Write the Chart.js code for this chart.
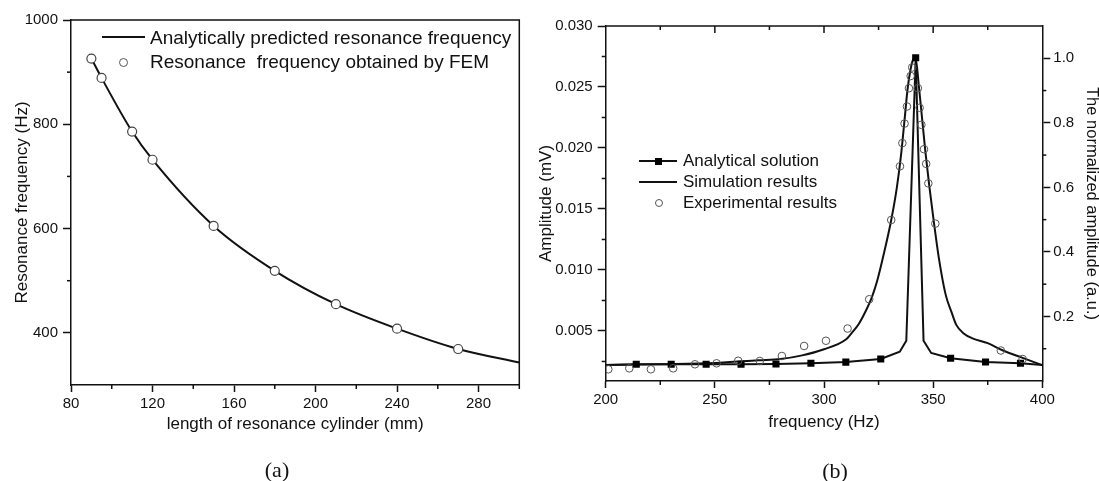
<!DOCTYPE html>
<html><head><meta charset="utf-8">
<script src="https://cdn.jsdelivr.net/npm/chart.js@4.4.1/dist/chart.umd.min.js"></script>
<style>
html,body{margin:0;padding:0;background:#fff;overflow:hidden;width:1099px;height:481px;position:relative;}
#wrapA{position:absolute;left:0;top:0;width:530px;height:481px;}
#wrapB{position:absolute;left:530px;top:0;width:569px;height:481px;}
.txt{position:absolute;font-family:'Liberation Sans',Arial,sans-serif;color:#111;white-space:pre;height:20px;line-height:20px;}
.ln{position:absolute;height:2px;background:#111;}
.circ{position:absolute;border:1.2px solid #555;border-radius:50%;background:#fff;box-sizing:border-box;}
.sq{position:absolute;width:7px;height:7px;background:#000;}
.cap{position:absolute;font-family:'Liberation Serif','Times New Roman',serif;font-size:22px;color:#111;transform:translate(-50%,-50%);line-height:24px;}
</style></head>
<body>
<div id="wrapA"><canvas id="cA" width="530" height="481"></canvas></div>
<div id="wrapB"><canvas id="cB" width="569" height="481"></canvas></div>

<!-- legend (a) -->
<div class="ln" style="left:102px;top:36px;width:43px;"></div>
<div class="txt" style="left:150px;top:28px;font-size:19px;">Analytically predicted resonance frequency</div>
<div class="circ" style="left:118.5px;top:57.5px;width:9px;height:9px;"></div>
<div class="txt" style="left:150px;top:52px;font-size:19px;">Resonance  frequency obtained by FEM</div>

<!-- legend (b) -->
<div class="ln" style="left:639px;top:160px;width:38px;"></div>
<div class="sq" style="left:655px;top:157.5px;"></div>
<div class="txt" style="left:683px;top:151px;font-size:17px;">Analytical solution</div>
<div class="ln" style="left:639px;top:181px;width:38px;"></div>
<div class="txt" style="left:683px;top:172px;font-size:17px;">Simulation results</div>
<div class="circ" style="left:654.5px;top:199px;width:8px;height:8px;background:transparent;"></div>
<div class="txt" style="left:683px;top:193px;font-size:17px;">Experimental results</div>

<div class="cap" style="left:277px;top:470px;">(a)</div>
<div class="cap" style="left:835px;top:471px;">(b)</div>

<script>
// ---------- data (a) ----------
const lengthLine = [90, 95, 110, 120, 150, 180, 210, 240, 270, 300];
const freqLine   = [926, 889, 786, 732, 605, 519, 455, 408, 369, 343];
const lengthFEM  = [90, 95, 110, 120, 150, 180, 210, 240, 270];
const freqFEM    = [926, 889, 786, 732, 605, 519, 455, 408, 369];
const xTicksA = [80, 120, 160, 200, 240, 280];
const xMinorA = [100, 140, 180, 220, 260, 300];
const yTicksA = [400, 600, 800, 1000];
const yMinorA = [500, 700, 900];

// ---------- data (b) ----------
const anaLineFreq = [200, 214, 230, 246, 262, 278, 294, 310, 326, 334.7, 337.7, 342, 345.6, 349.1, 358, 374, 390, 400];
const anaLineAmp  = [0.00221, 0.00227, 0.00227, 0.00227, 0.00228, 0.00229, 0.00235, 0.00245, 0.0027, 0.0033, 0.0042, 0.0274, 0.0042, 0.0032, 0.00276, 0.00246, 0.00236, 0.00222];
const anaMarkFreq = [214, 230, 246, 262, 278, 294, 310, 326, 342, 358, 374, 390];
const anaMarkAmp  = [0.00227, 0.00227, 0.00227, 0.00228, 0.00229, 0.00235, 0.00245, 0.0027, 0.0274, 0.00276, 0.00246, 0.00236];
const simFreq = [200, 225, 250, 270, 280, 290, 300, 310, 313, 316, 319, 322, 324.5, 327.5, 330.8, 333.4, 335.4, 336.9, 338.4, 340.7, 341.9, 343.5, 345.0, 346.5, 348.3, 350.2, 352.6, 355.7, 358.5, 360.6, 364, 368, 375, 382, 391, 400];
const simAmp  = [0.00221, 0.00228, 0.00238, 0.0026, 0.0027, 0.0030, 0.0035, 0.0043, 0.0049, 0.0056, 0.0066, 0.0078, 0.0092, 0.0114, 0.0141, 0.0168, 0.0196, 0.0223, 0.0250, 0.0272, 0.0274, 0.0250, 0.0223, 0.0196, 0.0168, 0.0141, 0.0110, 0.0080, 0.0065, 0.0055, 0.0048, 0.0044, 0.0040, 0.0034, 0.0028, 0.0022];
const expFreq = [201.2, 210.8, 220.7, 230.9, 240.9, 250.8, 260.7, 270.6, 280.7, 290.9, 300.9, 310.8, 320.7, 330.8, 334.8, 335.9, 336.9, 338.0, 338.9, 339.7, 340.4, 343.0, 343.8, 344.6, 345.8, 346.8, 347.8, 351.0, 381.0, 391.0];
const expAmp  = [0.00186, 0.00194, 0.00186, 0.00194, 0.00227, 0.00235, 0.00256, 0.00254, 0.00295, 0.00377, 0.0042, 0.0052, 0.0076, 0.0141, 0.0185, 0.0204, 0.0220, 0.0234, 0.0249, 0.0259, 0.0266, 0.0249, 0.0233, 0.0219, 0.0199, 0.0187, 0.0171, 0.0138, 0.0034, 0.0027];
const xTicksB = [200, 250, 300, 350, 400];
const xMinorB = [225, 275, 325, 375];
const yTicksB = [0.005, 0.010, 0.015, 0.020, 0.025, 0.030];
const yMinorB = [0.0025, 0.0075, 0.0125, 0.0175, 0.0225, 0.0275];
const y2TicksB = [0.2, 0.4, 0.6, 0.8, 1.0];
const y2MinorB = [0.1, 0.3, 0.5, 0.7, 0.9];

Chart.defaults.font.family = "'Liberation Sans', Arial, sans-serif";
Chart.defaults.color = '#111';

const pts = (xs, ys) => xs.map((x, i) => ({x: x, y: ys[i]}));

const tickMarks = {
  id: 'tickMarks',
  afterDraw(chart, args, opts) {
    const ctx = chart.ctx, a = chart.chartArea;
    ctx.save();
    ctx.strokeStyle = '#111';
    ctx.lineWidth = 1.5;
    if (opts.frame) {
      ctx.beginPath();
      ctx.moveTo(a.left, a.top); ctx.lineTo(a.right, a.top);
      if (opts.frame === 'box') { ctx.lineTo(a.right, a.bottom); }
      ctx.stroke();
    }
    (opts.marks || []).forEach(m => {
      const s = chart.scales[m.scale];
      m.values.forEach(v => {
        const p = s.getPixelForValue(v);
        ctx.beginPath();
        if (m.side === 'bottom') { ctx.moveTo(p, a.bottom); ctx.lineTo(p, a.bottom + m.len); }
        else if (m.side === 'top') { ctx.moveTo(p, a.top); ctx.lineTo(p, a.top + m.len); }
        else if (m.side === 'left') { ctx.moveTo(a.left, p); ctx.lineTo(a.left - m.len, p); }
        else if (m.side === 'right') { ctx.moveTo(a.right, p); ctx.lineTo(a.right + m.len, p); }
        ctx.stroke();
      });
    });
    ctx.restore();
  }
};

const gridOpt = (len) => ({display: true, drawOnChartArea: false, drawTicks: true, tickLength: len, tickColor: '#111', tickWidth: 1.5});
const borderOpt = {display: true, color: '#111', width: 1.5};

// ---------- chart (a) ----------
new Chart(document.getElementById('cA'), {
  type: 'scatter',
  data: {
    datasets: [
      { label: 'Resonance  frequency obtained by FEM', data: pts(lengthFEM, freqFEM),
        pointStyle: 'circle', pointRadius: 4.5, pointBackgroundColor: '#fff', pointBorderColor: '#444', pointBorderWidth: 1.2,
        showLine: false, order: 0 },
      { label: 'Analytically predicted resonance frequency', data: pts(lengthLine, freqLine),
        showLine: true, borderColor: '#111', borderWidth: 2, pointRadius: 0, cubicInterpolationMode: 'monotone', order: 1 }
    ]
  },
  options: {
    responsive: false, animation: false, events: [],
    layout: {padding: {top: 20, right: 10.7, left: 0, bottom: 0}},
    plugins: {
      legend: {display: false}, tooltip: {enabled: false},
      tickMarks: {frame: 'box', marks: [
        {scale: 'x', side: 'bottom', len: 4, values: xMinorA},
        {scale: 'y', side: 'left', len: 4, values: yMinorA}
      ]}
    },
    scales: {
      x: {
        type: 'linear', min: 80, max: 300,
        afterFit(s) { s.height = 96; },
        afterBuildTicks(s) { s.ticks = xTicksA.map(v => ({value: v})); },
        ticks: {font: {size: 15}, color: '#111', padding: 3, maxRotation: 0, autoSkip: false, callback: v => String(v)},
        grid: gridOpt(7), border: borderOpt,
        title: {display: true, text: 'length of resonance cylinder (mm)', font: {size: 17}, color: '#111', padding: {top: 0, bottom: 46.5}}
      },
      y: {
        type: 'linear', min: 300, max: 1000,
        afterFit(s) { s.width = 71; },
        afterBuildTicks(s) { s.ticks = yTicksA.map(v => ({value: v})); },
        ticks: {font: {size: 15}, color: '#111', padding: 5, autoSkip: false, callback: v => String(v)},
        grid: gridOpt(8), border: borderOpt,
        title: {display: true, text: 'Resonance frequency (Hz)', font: {size: 17}, color: '#111', padding: {top: 11.8, bottom: 0}}
      }
    }
  },
  plugins: [tickMarks]
});

// ---------- chart (b) ----------
new Chart(document.getElementById('cB'), {
  type: 'scatter',
  data: {
    datasets: [
      { label: 'Experimental results', data: pts(expFreq, expAmp), yAxisID: 'y',
        pointStyle: 'circle', pointRadius: 3.8, pointBackgroundColor: 'rgba(0,0,0,0)', pointBorderColor: '#555', pointBorderWidth: 1,
        showLine: false, order: 0 },
      { label: 'Analytical solution', data: pts(anaMarkFreq, anaMarkAmp), yAxisID: 'y',
        pointStyle: 'rect', pointRadius: 5, pointBackgroundColor: '#000', pointBorderColor: '#000', pointBorderWidth: 0,
        showLine: false, order: 1 },
      { label: 'Analytical solution line', data: pts(anaLineFreq, anaLineAmp), yAxisID: 'y',
        showLine: true, borderColor: '#111', borderWidth: 2, pointRadius: 0, tension: 0, order: 2 },
      { label: 'Simulation results', data: pts(simFreq, simAmp), yAxisID: 'y',
        showLine: true, borderColor: '#111', borderWidth: 2, pointRadius: 0, cubicInterpolationMode: 'monotone', order: 3 }
    ]
  },
  options: {
    responsive: false, animation: false, events: [],
    layout: {padding: {top: 26, right: 0, left: 0, bottom: 0}},
    plugins: {
      legend: {display: false}, tooltip: {enabled: false},
      tickMarks: {frame: 'top', marks: [
        {scale: 'x', side: 'bottom', len: 4, values: xMinorB},
        {scale: 'x', side: 'top', len: 4, values: xMinorB},
        {scale: 'x', side: 'top', len: 7, values: [250, 300, 350]},
        {scale: 'y', side: 'left', len: 4, values: yMinorB},
        {scale: 'y2', side: 'right', len: 4, values: y2MinorB}
      ]}
    },
    scales: {
      x: {
        type: 'linear', min: 200, max: 400,
        afterFit(s) { s.height = 100; },
        afterBuildTicks(s) { s.ticks = xTicksB.map(v => ({value: v})); },
        ticks: {font: {size: 15}, color: '#111', padding: 3, maxRotation: 0, autoSkip: false, callback: v => String(v)},
        grid: gridOpt(7), border: borderOpt,
        title: {display: true, text: 'frequency (Hz)', font: {size: 17}, color: '#111', padding: {top: 0, bottom: 48.8}}
      },
      y: {
        type: 'linear', position: 'left', min: 0.0009, max: 0.030,
        afterFit(s) { s.width = 75.7; },
        afterBuildTicks(s) { s.ticks = yTicksB.map(v => ({value: v})); },
        ticks: {font: {size: 15}, color: '#111', padding: 5, autoSkip: false, callback: v => Number(v).toFixed(3)},
        grid: gridOpt(8), border: borderOpt,
        title: {display: true, text: 'Amplitude (mV)', font: {size: 17}, color: '#111', padding: {top: 5.8, bottom: 0}}
      },
      y2: {
        type: 'linear', position: 'right', min: 0, max: 1.1,
        afterFit(s) { s.width = 56.7; },
        afterBuildTicks(s) { s.ticks = y2TicksB.map(v => ({value: v})); },
        ticks: {font: {size: 15}, color: '#111', padding: 3, autoSkip: false, callback: v => Number(v).toFixed(1)},
        grid: gridOpt(8), border: borderOpt,
        title: {display: true, text: 'The normalized amplitude (a.u.)', font: {size: 16.5}, color: '#111', padding: {top: -2.6, bottom: 0}}
      }
    }
  },
  plugins: [tickMarks]
});
</script>
</body></html>
